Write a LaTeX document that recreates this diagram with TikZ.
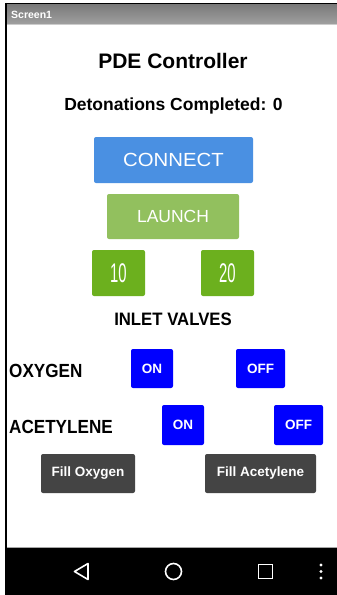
\documentclass[tikz,border=0pt]{standalone}
\usepackage{fontspec}
\setmainfont{Liberation Sans}
\usetikzlibrary{positioning}

\definecolor{connblue}{RGB}{74,144,226}
\definecolor{launchgreen}{RGB}{146,192,94}
\definecolor{numgreen}{RGB}{108,176,30}
\definecolor{valveblue}{RGB}{0,0,255}
\definecolor{fillgray}{RGB}{68,68,68}
\definecolor{barlight}{RGB}{160,160,160}
\definecolor{bardark}{RGB}{120,120,120}

\tikzset{
  btn/.style={rounded corners=2pt, text=white, inner sep=0pt, anchor=center},
  lbl/.style={inner sep=0pt, font=\bfseries\fontsize{19}{22}\selectfont},
}

\begin{document}
\begin{tikzpicture}[x=1pt,y=-1pt]
\useasboundingbox (0,0) rectangle (337,595);
% phone screen and title bar
\fill[white] (0,0) rectangle (337,595);
\shade[top color=bardark, bottom color=barlight] (6,3.5) rectangle (337,24);
\draw[gray!40, line width=1pt] (6,24.5)--(337,24.5);
\draw[black, line width=1.5pt] (5,3.5)--(337,3.5);
\draw[black, line width=2pt] (6,2.8)--(6,548);
\node[anchor=base west, inner sep=0pt, text=white, font=\bfseries\fontsize{10.5}{12}\selectfont] (screen) at (11,18.5) {Screen1};

% headings
\node[anchor=base, inner sep=0pt, font=\bfseries\fontsize{21}{24}\selectfont] (title) at (173,68.3) {PDE Controller};
\node[anchor=base, inner sep=0pt, font=\bfseries\fontsize{17.5}{20}\selectfont] (count) at (173.5,110) {Detonations Completed: 0};

% main buttons
\node[btn, fill=connblue, minimum width=159pt, minimum height=46pt, font=\fontsize{19}{22}\selectfont] (connect) at (173.5,160) {\scalebox{1.07}[1]{CONNECT}};
\node[btn, fill=launchgreen, minimum width=132pt, minimum height=45pt, font=\fontsize{17.5}{20}\selectfont] (launch) at (173,216.5) {LAUNCH};
\node[btn, fill=numgreen, minimum width=53pt, minimum height=46pt, font=\fontsize{27}{30}\selectfont] (ten) at (118.5,273) {\scalebox{0.55}[1]{10}};
\node[btn, fill=numgreen, minimum width=53pt, minimum height=46pt, font=\fontsize{27}{30}\selectfont] (twenty) at (227.5,273) {\scalebox{0.55}[1]{20}};

% valves
\node[anchor=base, inner sep=0pt, font=\bfseries\fontsize{18}{21}\selectfont] (inlet) at (173,325) {\scalebox{0.93}[1]{INLET VALVES}};
\node[lbl, anchor=base west] (oxy) at (9,377) {\scalebox{0.9}[1]{OXYGEN}};
\node[lbl, anchor=base west] (acet) at (9,433) {\scalebox{0.9}[1]{ACETYLENE}};

\node[btn, fill=valveblue, minimum width=42pt, minimum height=39pt, font=\bfseries\fontsize{13.5}{16}\selectfont] (oxyon) at (152,368.5) {ON};
\node[btn, fill=valveblue, minimum width=49pt, minimum height=39pt, font=\bfseries\fontsize{13.5}{16}\selectfont] (oxyoff) at (260.5,368.5) {OFF};
\node[btn, fill=valveblue, minimum width=42pt, minimum height=40pt, font=\bfseries\fontsize{13.5}{16}\selectfont] (aceon) at (183,425) {ON};
\node[btn, fill=valveblue, minimum width=49pt, minimum height=40pt, font=\bfseries\fontsize{13.5}{16}\selectfont] (aceoff) at (298.5,425) {OFF};

\node[btn, fill=fillgray, minimum width=94pt, minimum height=39pt, font=\bfseries\fontsize{13.5}{16}\selectfont] (fillox) at (88,473.5) {Fill Oxygen};
\node[btn, fill=fillgray, minimum width=111pt, minimum height=39pt, font=\bfseries\fontsize{13.5}{16}\selectfont] (fillac) at (260.5,473.5) {Fill Acetylene};

% navigation bar
\fill[black] (5,548) rectangle (337,595);
\draw[gray!70, line width=1pt] (7,547.5)--(337,547.5);
\draw[white, line width=1.6pt, line join=round] (74.5,571.5)--(88,563.5)--(88,579.5)--cycle;
\draw[white, line width=1.6pt] (173.5,571.5) circle[radius=8];
\draw[white, line width=1.6pt] (258.5,564.5) rectangle (272.5,578.5);
\foreach \y in {565,571.5,578}
  \fill[white] (321,\y) circle[radius=1.6pt];
\end{tikzpicture}
\end{document}
